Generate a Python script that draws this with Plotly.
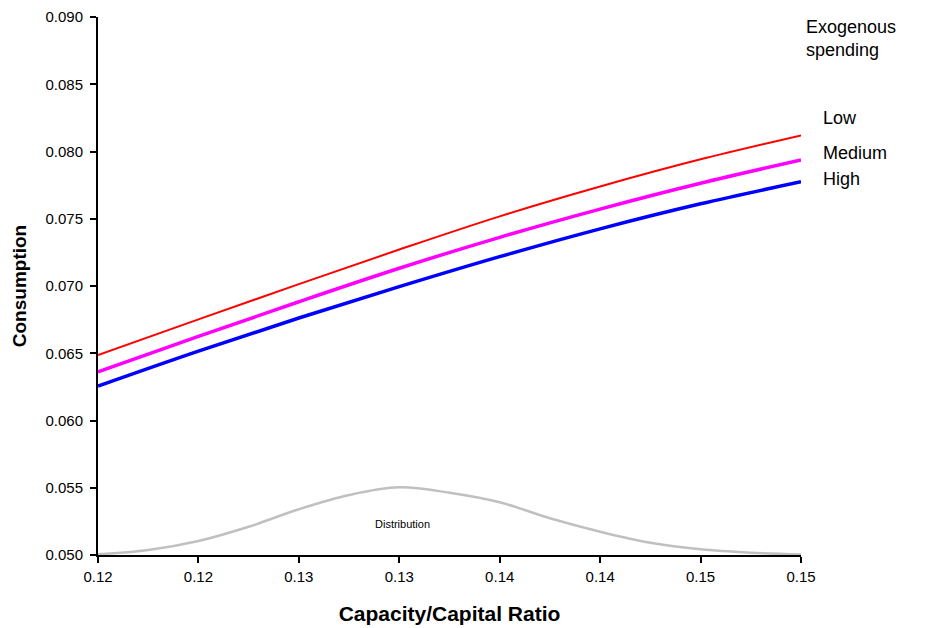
import plotly.graph_objects as go

# ---- data ----
x_vals = [0.118, 0.123, 0.128, 0.133, 0.138, 0.143, 0.148, 0.153]
x_tick_labels = ["0.12", "0.12", "0.13", "0.13", "0.14", "0.14", "0.15", "0.15"]

low = [0.06487, 0.06752, 0.07014, 0.07271, 0.07518, 0.07740, 0.07942, 0.08120]
medium = [0.06361, 0.06625, 0.06883, 0.07132, 0.07362, 0.07572, 0.07764, 0.07937]
high = [0.06256, 0.06516, 0.06762, 0.06995, 0.07218, 0.07425, 0.07611, 0.07775]

dist_x = [0.118, 0.1205, 0.123, 0.1255, 0.128, 0.1305, 0.133, 0.1355, 0.138,
          0.1405, 0.143, 0.1455, 0.148, 0.1505, 0.153]
dist_y = [0.05005, 0.05037, 0.05104, 0.05210, 0.05340, 0.05446, 0.05503, 0.05463,
          0.05392, 0.05273, 0.05173, 0.05091, 0.05042, 0.05017, 0.05004]

y_ticks = [0.050, 0.055, 0.060, 0.065, 0.070, 0.075, 0.080, 0.085, 0.090]

FONT = "Liberation Sans, Arial, Helvetica, sans-serif"

fig = go.Figure()
fig.add_trace(go.Scatter(x=dist_x, y=dist_y, mode="lines", line=dict(color="#c0c0c0", width=2.5, shape="spline"),
                         showlegend=False, hoverinfo="skip"))
fig.add_trace(go.Scatter(x=x_vals, y=low, mode="lines", name="Low",
                         line=dict(color="#ff0000", width=2, shape="spline"), showlegend=False))
fig.add_trace(go.Scatter(x=x_vals, y=medium, mode="lines", name="Medium",
                         line=dict(color="#ff00ff", width=3.5, shape="spline"), showlegend=False))
fig.add_trace(go.Scatter(x=x_vals, y=high, mode="lines", name="High",
                         line=dict(color="#0000ff", width=3.5, shape="spline"), showlegend=False))

ann = [
    dict(x=1.0, xref="paper", xanchor="left", xshift=3, y=0.090, yanchor="top", yshift=2,
         text="Exogenous<br>spending", align="left", font=dict(size=18)),
    dict(x=1.0, xref="paper", xanchor="left", xshift=20, y=low[-1] + 0.00129, text="Low",
         align="left", font=dict(size=18)),
    dict(x=1.0, xref="paper", xanchor="left", xshift=20, y=medium[-1] + 0.00052, text="Medium",
         align="left", font=dict(size=18)),
    dict(x=1.0, xref="paper", xanchor="left", xshift=20, y=high[-1] + 0.0002, text="High",
         align="left", font=dict(size=18)),
    dict(x=0.13315, y=0.05228, text="Distribution", font=dict(size=11)),
]
for a in ann:
    a.setdefault("showarrow", False)
    a.setdefault("xref", "x")
    a.setdefault("yref", "y")
    fig.add_annotation(**a)

# page body has an 8px margin, so the figure is offset by 8px
fig.update_layout(
    width=917, height=620,
    margin=dict(l=90, r=124, t=9, b=73),
    paper_bgcolor="white", plot_bgcolor="white",
    font=dict(family=FONT, color="black", size=15),
    xaxis=dict(range=[0.118, 0.153], tickvals=x_vals, ticktext=x_tick_labels,
               showgrid=False, zeroline=False, showline=True, linecolor="black", linewidth=2,
               ticks="outside", ticklen=6, tickwidth=2, tickcolor="black",
               tickfont=dict(size=15), ticklabelstandoff=1, automargin=False,
               title=dict(text="<b>Capacity/Capital Ratio</b>", font=dict(size=21), standoff=22)),
    yaxis=dict(range=[0.050, 0.090], tickvals=y_ticks, tickformat=".3f",
               showgrid=False, zeroline=False, showline=True, linecolor="black", linewidth=2,
               ticks="outside", ticklen=6, tickwidth=2, tickcolor="black",
               tickfont=dict(size=15), ticklabelstandoff=4, automargin=False,
               title=dict(text="<b>Consumption</b>", font=dict(size=19), standoff=14)),
)

fig.write_html("out.html")
